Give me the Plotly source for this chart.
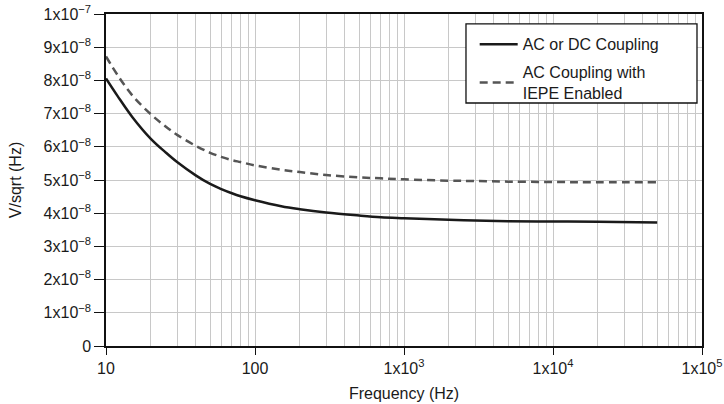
import plotly.graph_objects as go

freq = [10, 12, 15, 20, 25, 30, 40, 50, 60, 70, 80, 100, 150, 200, 300, 500, 700,
        1000, 2000, 3000, 5000, 10000, 20000, 50000]
ac_dc = [8.06, 7.52, 6.90, 6.24, 5.84, 5.54, 5.14, 4.88, 4.72, 4.60, 4.51, 4.39, 4.21,
         4.12, 4.02, 3.93, 3.88, 3.85, 3.80, 3.78, 3.76, 3.75, 3.74, 3.72]
iepe = [8.72, 8.15, 7.55, 6.98, 6.62, 6.36, 6.03, 5.82, 5.69, 5.60, 5.54, 5.44, 5.31,
        5.24, 5.15, 5.08, 5.05, 5.02, 4.98, 4.97, 4.95, 4.94, 4.93, 4.93]
scale = 1e-8
ac_dc_v = [v * scale for v in ac_dc]
iepe_v = [v * scale for v in iepe]

y_ticks = [i * 1e-8 for i in range(11)]
y_text = ["0"] + [f"{i}x10<sup>\u22128</sup>" for i in range(1, 10)] + ["1x10<sup>\u22127</sup>"]
x_ticks = [10, 100, 1000, 10000, 100000]
x_text = ["10", "100", "1x10<sup>3</sup>", "1x10<sup>4</sup>", "1x10<sup>5</sup>"]
minor_x = [m * 10 ** d for d in range(1, 5) for m in range(2, 10)]

fig = go.Figure()
fig.add_trace(go.Scatter(x=freq, y=ac_dc_v, mode="lines", name="AC or DC Coupling",
                         legendgroup="a",
                         line=dict(color="#1a1a1a", width=2.5, shape="spline")))
fig.add_trace(go.Scatter(x=freq, y=iepe_v, mode="lines",
                         name="AC Coupling with<br>IEPE Enabled", legendgroup="b",
                         line=dict(color="#555555", width=2.5, dash="8px,5px", shape="spline")))

grid = "#c8c8c8"
fig.add_shape(type="rect", xref="paper", yref="paper",
              x0=0.604, x1=0.9916, y0=0.732, y1=0.970,
              line=dict(color="#111111", width=1.3), fillcolor="white", layer="above")

fig.update_layout(
    width=724, height=404,
    margin=dict(l=106, r=22, t=14, b=58),
    paper_bgcolor="white", plot_bgcolor="white",
    font=dict(family="Liberation Sans, Arial, sans-serif", size=16, color="#1a1a1a"),
    showlegend=True,
    legend=dict(x=0.6186, y=0.96, xanchor="left", yanchor="top",
                borderwidth=0, bgcolor="rgba(0,0,0,0)",
                font=dict(size=16), itemwidth=38, tracegroupgap=4),
    xaxis=dict(type="log", range=[1, 5], tickvals=x_ticks, ticktext=x_text,
               showgrid=True, gridcolor=grid, gridwidth=1,
               ticks="outside", ticklen=7, tickcolor="#111111", tickwidth=1.3,
               showline=True, linecolor="#111111", linewidth=1.5, mirror=True,
               minor=dict(tickvals=minor_x, showgrid=True, gridcolor=grid, gridwidth=1, ticks=""),
               title=dict(text="Frequency (Hz)", font=dict(size=16), standoff=12),
               zeroline=False, automargin=False, ticklabeloverflow="allow"),
    yaxis=dict(range=[0, 1e-7], tickvals=y_ticks, ticktext=y_text,
               showgrid=True, gridcolor=grid, gridwidth=1,
               ticks="outside", ticklen=10, tickcolor="#111111", tickwidth=1.3,
               showline=True, linecolor="#111111", linewidth=1.5, mirror=True,
               title=dict(text="V/sqrt (Hz)", font=dict(size=16), standoff=18),
               zeroline=False, automargin=False, ticklabeloverflow="allow"),
)

fig.write_html("out.html", config={"displayModeBar": False},
               post_script="document.body.style.margin='0';")
